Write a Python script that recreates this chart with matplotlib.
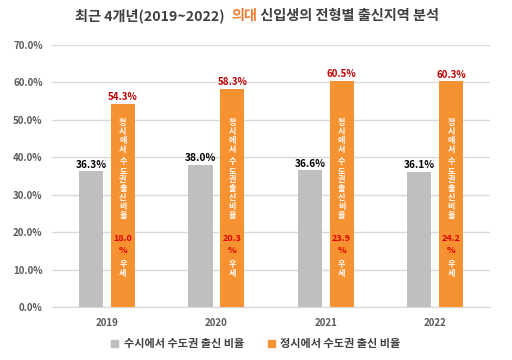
import matplotlib
matplotlib.use("Agg")
import matplotlib.pyplot as plt
import numpy as np
from matplotlib.patches import Patch

plt.rcParams['font.family'] = ['Noto Sans CJK KR', 'DejaVu Sans']

# ── data ──────────────────────────────────────────────
years = ["2019", "2020", "2021", "2022"]
susi = [36.3, 38.0, 36.6, 36.1]      # 수시에서 수도권 출신 비율
jeongsi = [54.3, 58.3, 60.5, 60.3]   # 정시에서 수도권 출신 비율
gap = [18.0, 20.3, 23.9, 24.2]       # 정시 우세 폭
yticks = [0, 10, 20, 30, 40, 50, 60, 70]

GRAY = "#BFBFBF"
ORANGE = "#F79232"
RED = "#C00000"
TXT = "#404040"

fig = plt.figure(figsize=(5.12, 3.6), dpi=100, facecolor="white")
ax = fig.add_axes([0.102, 0.147, 0.855, 0.728])

x = np.arange(len(years))
w = 0.22
off = 0.145
ax.bar(x - off, susi, w, color=GRAY, zorder=3)
ax.bar(x + off, jeongsi, w, color=ORANGE, zorder=3)

ax.set_xlim(-0.5, len(years) - 0.5)
ax.set_ylim(0, 70)
ax.set_yticks(yticks)
ax.set_yticklabels([f"{v:.1f}%" for v in yticks], fontsize=7, color="#595959",
                   fontweight="bold")
ax.set_xticks(x)
ax.set_xticklabels(years, fontsize=7, color="#595959", fontweight="bold")
ax.tick_params(length=0, pad=8)
ax.tick_params(axis="y", pad=7)
ax.grid(axis="y", color="#D9D9D9", lw=1, zorder=0)
for s in ["top", "right", "left"]:
    ax.spines[s].set_visible(False)
ax.spines["bottom"].set_color("#D9D9D9")

# value labels
for i in range(len(years)):
    ax.text(x[i] - off, susi[i] + 0.4, f"{susi[i]:.1f}%", ha="center", va="bottom",
            fontsize=7.3, fontweight="bold", color="black", zorder=4)
    ax.text(x[i] + off, jeongsi[i] + 0.4, f"{jeongsi[i]:.1f}%", ha="center",
            va="bottom", fontsize=7, fontweight="bold", color=RED, zorder=4)

# stacked vertical text in the orange bars
words = ["정시에서", "수도권", "출신", "비율"]
CH = dict(ha="center", va="center", fontsize=5.8, fontweight="bold",
          color="white", zorder=5)
NUM = dict(ha="center", va="center", fontsize=6.5, fontweight="bold",
           color="#E00000", zorder=5)
for i in range(len(years)):
    y = 49.2
    for j, word in enumerate(words):
        if j == 1:
            y -= 0.8
        for ch in word:
            ax.text(x[i] + off, y, ch, **CH)
            y -= 2.4
    ax.text(x[i] + off, 18.2, f"{gap[i]:.1f}", **NUM)
    ax.text(x[i] + off, 15.0, "%", **NUM)
    ax.text(x[i] + off, 11.5, "우", **CH)
    ax.text(x[i] + off, 9.1, "세", **CH)

# title with coloured word
t1 = fig.text(0.147, 0.955, "최근 4개년(2019~2022)  ", fontsize=10.2,
              fontweight="bold", color=TXT, va="center", ha="left")
t2 = ax.annotate("의대", xy=(1, 0.5), xycoords=t1, va="center", ha="left",
                 fontsize=10.2, fontweight="bold", color="#ED7D31")
ax.annotate(" 신입생의 전형별 출신지역 분석", xy=(1, 0.5), xycoords=t2,
            va="center", ha="left", fontsize=10.2, fontweight="bold", color=TXT)

handles = [Patch(color=GRAY, label="수시에서 수도권 출신 비율"),
           Patch(color=ORANGE, label="정시에서 수도권 출신 비율")]
leg = fig.legend(handles=handles, loc="center", bbox_to_anchor=(0.5, 0.045),
                 ncol=2, frameon=False, fontsize=8, handlelength=0.6,
                 handleheight=0.6, columnspacing=2.2, handletextpad=0.5)
for t in leg.get_texts():
    t.set_color(TXT)
    t.set_fontweight("bold")

fig.savefig("out.png", dpi=100, facecolor="white")
